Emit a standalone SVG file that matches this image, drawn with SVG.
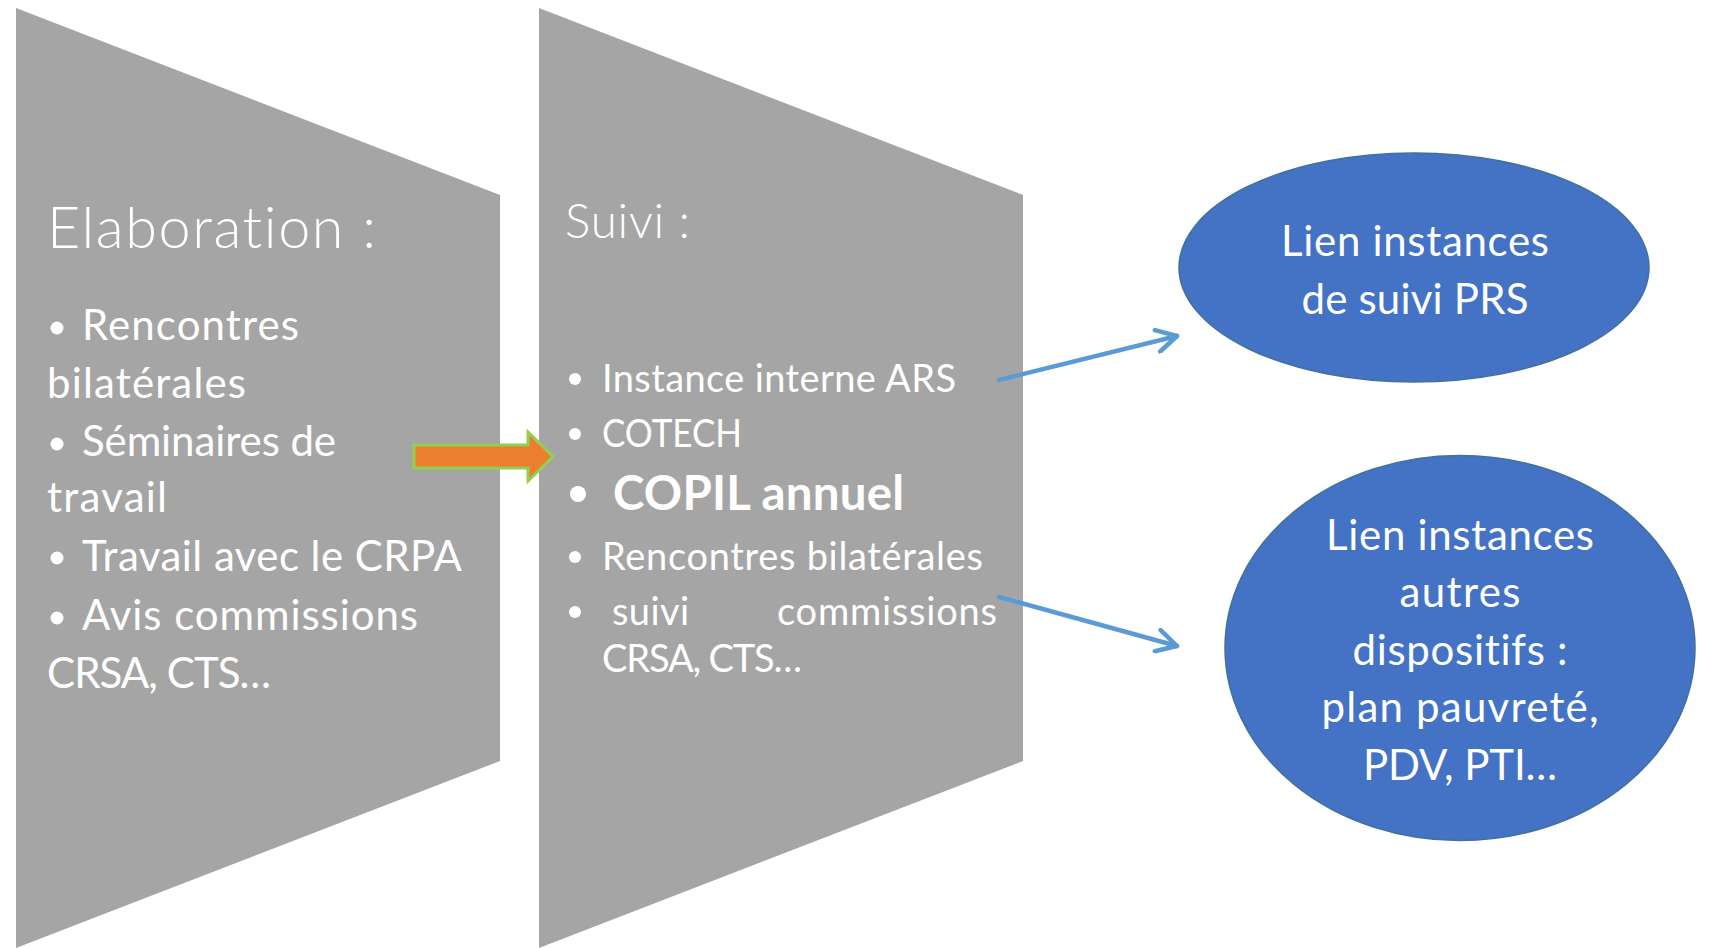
<svg xmlns="http://www.w3.org/2000/svg" width="1709" height="948" viewBox="0 0 1709 948">
  <defs>
    <style>
      .panel { fill: #A5A5A5; }
      .txt { font-family: Lato, "Open Sans", "Liberation Sans", sans-serif; fill: #FFFFFF; font-variant-ligatures: none; font-feature-settings: "liga" 0, "dlig" 0; }
      .title { font-weight: 300; }
      .big { font-size: 42px; }
      .mid { font-size: 38px; }
      .bold { font-weight: 700; font-size: 47.5px; }
      .dot { fill: #FFFFFF; }
      .bubble { fill: #4472C4; stroke: #41719C; stroke-width: 1.5; }
      .link { fill: none; stroke: #5B9BD5; stroke-width: 4.5; stroke-linecap: round; marker-end: url(#openHead); }
    </style>
    <marker id="openHead" viewBox="0 0 26 26" refX="23" refY="13" markerWidth="26" markerHeight="26" markerUnits="userSpaceOnUse" orient="auto">
      <path d="M3,2 L23,13 L3,24" fill="none" stroke="#5B9BD5" stroke-width="4.5" stroke-linecap="round" stroke-linejoin="round"/>
    </marker>
  </defs>

  <rect width="1709" height="948" fill="#FFFFFF"/>

  <!-- Elaboration panel -->
  <g id="elaboration">
    <polygon class="panel" points="16,8 500,195 500,761 16,948"/>
    <text class="txt title" x="47" y="248" font-size="57.5" textLength="329">Elaboration :</text>
    <circle class="dot" cx="57" cy="328" r="6.5"/>
    <text class="txt big" x="82" y="340" textLength="217">Rencontres</text>
    <text class="txt big" x="47" y="398" textLength="199">bilatérales</text>
    <circle class="dot" cx="57" cy="444" r="6.5"/>
    <text class="txt big" x="82" y="456" textLength="254">Séminaires de</text>
    <text class="txt big" x="47" y="512" textLength="120">travail</text>
    <circle class="dot" cx="57" cy="558" r="6.5"/>
    <text class="txt big" x="82" y="571" textLength="380">Travail avec le CRPA</text>
    <circle class="dot" cx="57" cy="618" r="6.5"/>
    <text class="txt big" x="82" y="630" textLength="336">Avis commissions</text>
    <text class="txt big" x="47" y="688" textLength="224">CRSA, CTS…</text>
  </g>

  <!-- Suivi panel -->
  <g id="suivi">
    <polygon class="panel" points="539,8 1023,195 1023,761 539,948"/>
    <text class="txt title" x="565" y="238" font-size="47.5" textLength="125">Suivi :</text>
    <circle class="dot" cx="575" cy="379" r="6"/>
    <text class="txt mid" x="602" y="392" textLength="354">Instance interne ARS</text>
    <circle class="dot" cx="575" cy="434" r="6"/>
    <text class="txt mid" x="602" y="447" textLength="140" lengthAdjust="spacingAndGlyphs">COTECH</text>
    <circle class="dot" cx="578" cy="494" r="8"/>
    <text class="txt bold" x="613" y="510" textLength="291">COPIL annuel</text>
    <circle class="dot" cx="575" cy="557" r="6"/>
    <text class="txt mid" x="602" y="570" textLength="381">Rencontres bilatérales</text>
    <circle class="dot" cx="575" cy="612" r="6"/>
    <text class="txt mid" y="625"><tspan x="612" textLength="77">suivi</tspan><tspan x="777" textLength="220">commissions</tspan></text>
    <text class="txt mid" x="602" y="672" textLength="200">CRSA, CTS…</text>
  </g>

  <!-- Ellipse: PRS follow-up bodies -->
  <g id="lien-prs">
    <ellipse class="bubble" cx="1414" cy="267.5" rx="235" ry="114.5"/>
    <text class="txt big" x="1415" y="256" text-anchor="middle" textLength="268">Lien instances</text>
    <text class="txt big" x="1415" y="314" text-anchor="middle" textLength="227">de suivi PRS</text>
  </g>

  <!-- Ellipse: other schemes -->
  <g id="lien-autres">
    <ellipse class="bubble" cx="1460" cy="648" rx="235" ry="192.5"/>
    <text class="txt big" x="1460" y="550" text-anchor="middle" textLength="268">Lien instances</text>
    <text class="txt big" x="1460" y="607" text-anchor="middle" textLength="121">autres</text>
    <text class="txt big" x="1460" y="665" text-anchor="middle" textLength="215">dispositifs :</text>
    <text class="txt big" x="1460" y="722" text-anchor="middle" textLength="277">plan pauvreté,</text>
    <text class="txt big" x="1460" y="780" text-anchor="middle" textLength="194">PDV, PTI…</text>
  </g>

  <!-- Connectors -->
  <g id="connectors">
    <polygon points="414,445 528,445 528,432 553,456.5 528,481 528,468 414,468" fill="#ED7D31" stroke="#92D050" stroke-width="3" stroke-linejoin="miter"/>
    <path class="link" d="M999,380 L1177,336"/>
    <path class="link" d="M999,597 L1177,646"/>
  </g>
</svg>
